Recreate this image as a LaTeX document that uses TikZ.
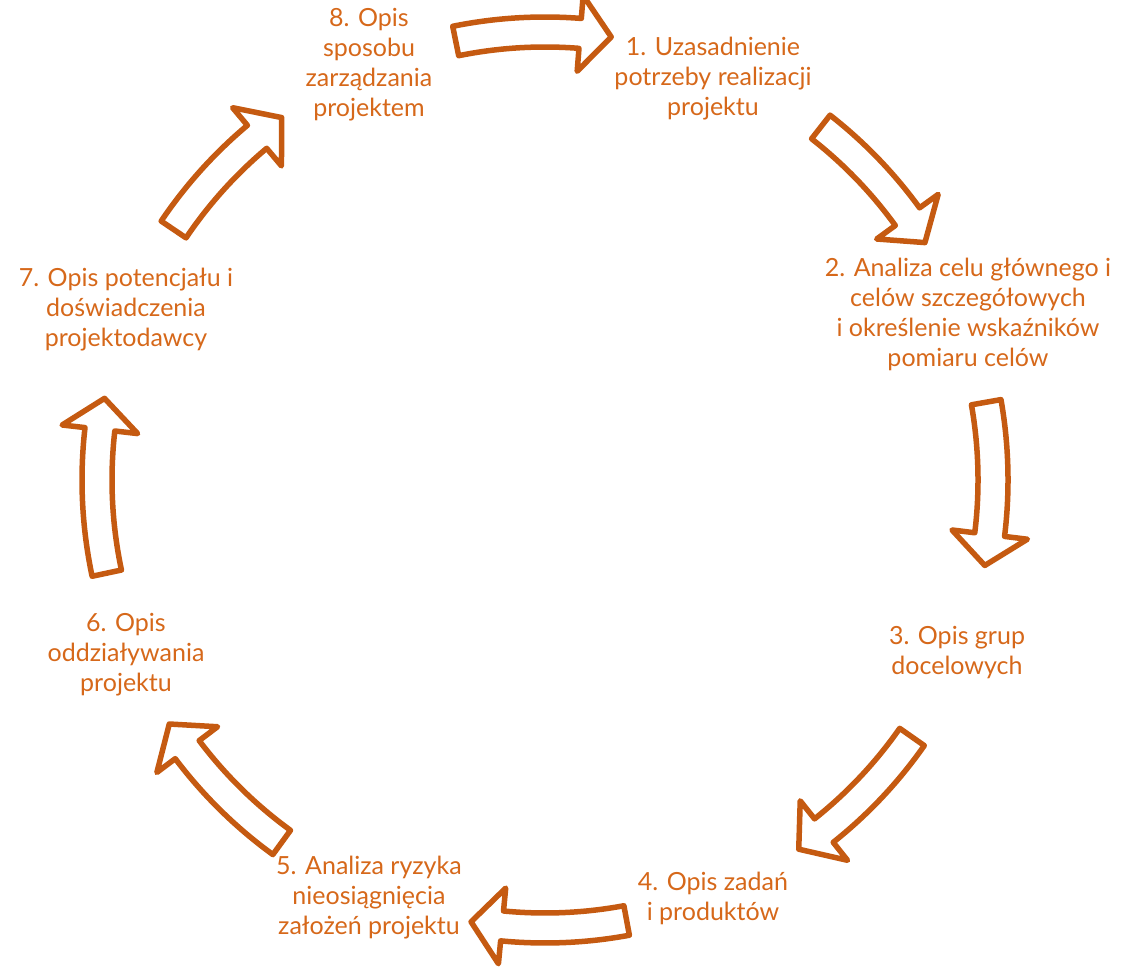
\documentclass[tikz,border=0pt]{standalone}
\usepackage{fontspec}
\setmainfont{Lato}
\definecolor{stagetext}{RGB}{214,104,26}
\definecolor{stageline}{RGB}{197,90,17}

\begin{document}
\begin{tikzpicture}[x=1pt,y=1pt]
  \tikzstyle{stage}=[text=stagetext,align=center,inner sep=0pt,
                     font=\fontsize{25}{30}\selectfont]
  \tikzstyle{block arrow}=[draw=stageline,fill=white,line width=5.5pt,
                           line join=round]
  \useasboundingbox (0,0) rectangle (1121,967);
  \coordinate (c) at (545,487);
  \node [stage] (n1) at (713,888) {1. Uzasadnienie\\potrzeby realizacji\\projektu};
  \node [stage] (n2) at (968,653) {2. Analiza celu głównego i\\celów szczegółowych\\i określenie wskaźników\\pomiaru celów};
  \node [stage] (n3) at (957,314) {3. Opis grup\\docelowych};
  \node [stage] (n4) at (713,69) {4. Opis zadań\\i produktów};
  \node [stage] (n5) at (369,69) {5. Analiza ryzyka\\nieosiągnięcia\\założeń projektu};
  \node [stage] (n6) at (126,312) {6. Opis\\oddziaływania\\projektu};
  \node [stage] (n7) at (126,657) {7. Opis potencjału i\\doświadczenia\\projektodawcy};
  \node [stage] (n8) at (369,902) {8. Opis\\sposobu\\zarządzania\\projektem};
  \foreach \a/\b in {101.5/81.5, 52/32, 10/-11, -35/-55.5,
                     -79.5/-99.5, -126/-147, -168/-190.5, 146/126}
    \draw [block arrow] ([shift={(\a:463)}]c)
      arc [start angle=\a, end angle=\b+4, radius=463]
      -- ([shift={({\b+4}:486)}]c) -- ([shift={(\b:448)}]c)
      -- ([shift={({\b+4}:410)}]c) -- ([shift={({\b+4}:433)}]c)
      arc [start angle=\b+4, end angle=\a, radius=433] -- cycle;
\end{tikzpicture}
\end{document}
